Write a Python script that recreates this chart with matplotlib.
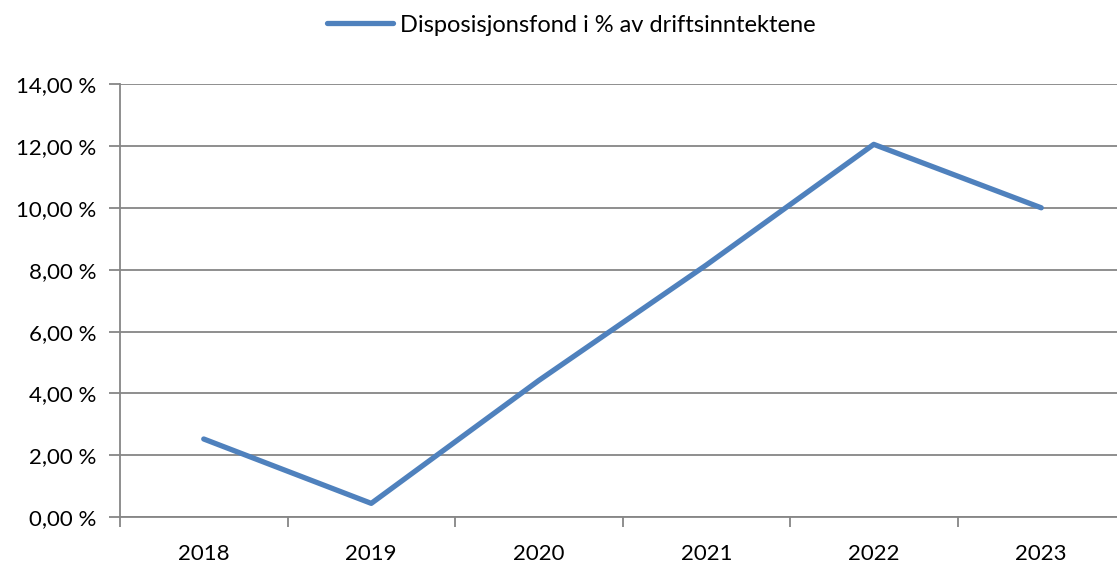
import matplotlib.pyplot as plt
from matplotlib.ticker import FuncFormatter, MultipleLocator

# data
years = ["2018", "2019", "2020", "2021", "2022", "2023"]
share = [2.53, 0.45, 4.42, 8.15, 12.05, 10.0]
series_name = "Disposisjonsfond i % av driftsinntektene"

plt.rcParams['font.family'] = ['Lato', 'DejaVu Sans']

fig = plt.figure(figsize=(11.17, 5.63), dpi=100)
ax = fig.add_axes([120 / 1117, 45.7 / 563, 1005 / 1117, 433.3 / 563])

blue = "#4F81BD"
grey = "#868686"

x = list(range(len(years)))
ax.plot(x, share, color=blue, lw=3.8, solid_capstyle='round', label=series_name)

ax.set_xlim(-0.5, len(years) - 0.5)
ax.set_ylim(0, 14)
ax.yaxis.set_major_locator(MultipleLocator(2))
ax.yaxis.set_major_formatter(FuncFormatter(lambda v, p: f"{v:.2f}".replace(".", ",") + " %"))
ax.grid(axis='y', color=grey, lw=1.3)
ax.set_axisbelow(True)

ax.set_xticks(x)
ax.set_xticklabels(years)
ax.set_xticks([i - 0.5 for i in range(len(years) + 1)], minor=True)
ax.tick_params(axis='x', which='major', length=0, pad=19, labelsize=16)
ax.tick_params(axis='x', which='minor', length=7, width=1.3, color=grey, direction='out')
ax.tick_params(axis='y', length=8, width=1.3, color=grey, pad=9, labelsize=16)

for s in ['top', 'right']:
    ax.spines[s].set_visible(False)
for s in ['left', 'bottom']:
    ax.spines[s].set_color(grey)
    ax.spines[s].set_linewidth(1.3)

fig.legend(loc='center', bbox_to_anchor=(571 / 1117, 1 - 25 / 563), frameon=False,
           fontsize=17, handlelength=2.8, handletextpad=0.3)

fig.savefig("out.png", dpi=100)
